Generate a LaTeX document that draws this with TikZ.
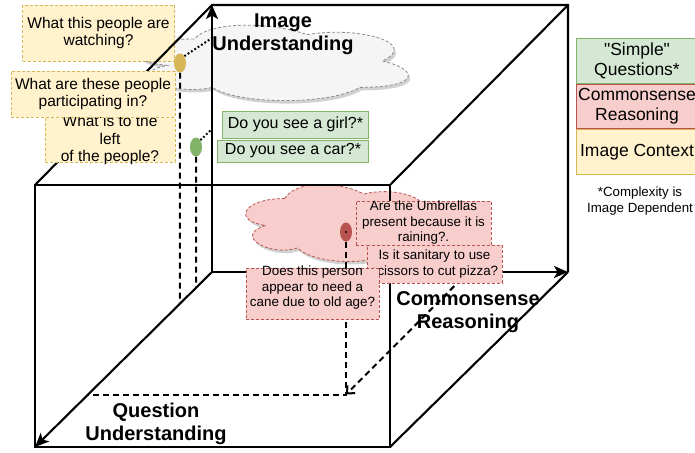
\documentclass[tikz,border=0pt]{standalone}
\usepackage{fontspec}
\setmainfont{Liberation Sans}
\newfontfamily\legendfont{Liberation Sans}
\usetikzlibrary{positioning,arrows.meta,calc,shapes.geometric}
\definecolor{ctxfill}{HTML}{FFF2CC}
\definecolor{ctxline}{HTML}{D6B656}
\definecolor{simfill}{HTML}{D5E8D4}
\definecolor{simline}{HTML}{82B366}
\definecolor{csfill}{HTML}{F8CECC}
\definecolor{csline}{HTML}{B85450}
\definecolor{cloudfill}{HTML}{F5F5F5}
\definecolor{cloudline}{HTML}{8C8C8C}
\tikzset{
    qbox/.style={align=center,inner sep=0pt,line width=0.8pt},
    ctxq/.style={qbox,draw=ctxline,fill=ctxfill,dash pattern=on 3pt off 2pt,font=\fontsize{15.5}{17.5}\selectfont},
    simq/.style={qbox,draw=simline,fill=simfill,font=\fontsize{16}{18}\selectfont},
    csq/.style={qbox,draw=csline,fill=csfill,dash pattern=on 3pt off 2pt,font=\fontsize{13.4}{15.5}\selectfont},
    legend/.style={qbox,minimum width=122pt,line width=1pt,font=\legendfont\fontsize{17.5}{20}\selectfont},
    axislabel/.style={align=center,font=\bfseries\fontsize{20}{23}\selectfont},
    edge/.style={line width=2.1pt},
    axis/.style={edge,-{Stealth[length=14pt,width=12pt,inset=3.5pt]}},
    proj/.style={line width=2pt,dash pattern=on 6pt off 4pt},
    hint/.style={line width=2pt,dash pattern=on 1.8pt off 2.2pt},
    blob/.style={ellipse,minimum width=12pt,minimum height=19pt,inner sep=0pt},
    pics/puff/.style={code={
        \path[pic actions] (0.25,0.25) .. controls (0.05,0.25) and (0,0.5) .. (0.16,0.55)
            .. controls (0,0.66) and (0.18,0.9) .. (0.31,0.8)
            .. controls (0.4,1) and (0.7,1) .. (0.8,0.8)
            .. controls (1,0.8) and (1,0.6) .. (0.875,0.5)
            .. controls (1,0.3) and (0.8,0.1) .. (0.625,0.2)
            .. controls (0.5,0.05) and (0.3,0.05) .. (0.25,0.25) -- cycle;
    }},
}

\begin{document}
\begin{tikzpicture}[x=1pt,y=-1pt]
    \useasboundingbox (0,0) rectangle (695,452);
    \fill[white] (0,0) rectangle (695,452);

    % clouds with a soft shadow
    \pic[fill=black,opacity=0.18,xscale=301,yscale=88] at (121,20) {puff};
    \pic[fill=cloudfill,draw=cloudline,line width=0.8pt,dash pattern=on 3pt off 2pt,xscale=301,yscale=88] at (119,17) {puff};
    \pic[fill=black,opacity=0.18,xscale=211,yscale=90] at (234,179) {puff};
    \pic[fill=csfill,draw=csline,line width=0.8pt,dash pattern=on 3pt off 2pt,xscale=211,yscale=90] at (232,176) {puff};

    \node[ctxq,minimum width=152pt,minimum height=56pt] (watch) at (98.5,33) {What this people are\\watching?};

    % cube corners
    \coordinate (o) at (212,272);
    \coordinate (iu) at (212,5);
    \coordinate (cr) at (568,272);
    \coordinate (qu) at (35,447);
    \coordinate (bk) at (568,5);
    \coordinate (ftl) at (35,185);
    \coordinate (ftr) at (390,185);
    \coordinate (fbr) at (390,447);

    \draw[edge] (qu) -- (ftl) -- (ftr) -- (fbr) -- cycle;
    \draw[edge] (ftl) -- (iu) -- (bk) -- (cr);
    \draw[edge] (ftr) -- (bk);
    \draw[edge] (fbr) -- (cr);
    \draw[axis] (o) -- (iu);
    \draw[axis] (o) -- (cr);
    \draw[axis] (o) -- (qu);

    % projections of the sample questions
    \node[blob] (ydot) at (180,63) {};
    \node[blob] (gdot) at (196,147) {};
    \node[blob] (rdot) at (346,232) {};
    \coordinate (yi) at (212,38);
    \coordinate (gi) at (212,129);
    \coordinate (yq) at ($(o)!0.181!(qu)$);
    \coordinate (gq) at ($(o)!0.09!(qu)$);
    \coordinate (rq) at ($(o)!0.7!(qu)$);
    \coordinate (rc) at ($(o)!0.72!(cr)$);

    \draw[hint] (ydot.north east) -- (yi);
    \draw[hint] (gdot.north east) -- (gi);
    \draw[proj] (ydot.south) -- (yq);
    \draw[proj] (gdot.south) -- (gq);
    \draw[proj] (rdot.south) -- (rdot |- rq) -- (rq);
    \draw[proj,-{Straight Barb[length=6pt,width=11pt]}] (rc) -- (rdot |- rq);

    \node[blob,fill=ctxline] at (ydot) {};
    \node[blob,fill=simline] at (gdot) {};
    \node[blob,fill=csline] at (rdot) {};
    \fill (rdot.center) circle (1.2pt);

    \node[ctxq,minimum width=130pt,inner ysep=-2.5pt] (left) at (110,140) {What is to the\\left\\of the people?};
    \node[ctxq,minimum width=164pt,minimum height=46pt] (part) at (93,94) {What are these people\\participating in?};

    \node[simq,minimum width=146pt,minimum height=27pt] (girl) at (295.5,124.5) {Do you see a girl?*};
    \node[simq,minimum width=151pt,minimum height=22pt] (car) at (293,151) {Do you see a car?*};

    \node[csq,minimum width=135pt,minimum height=44pt] (umbr) at (423.5,223) {Are the Umbrellas\\present because it is\\raining?.};
    \node[csq,minimum width=135pt,minimum height=38pt] (pizza) at (434.5,264) {Is it sanitary to use\\scissors to cut pizza?};
    \node[csq,minimum width=133pt,inner ysep=-2.25pt] (cane) at (312.5,294) {Does this person\\appear to need a\\cane due to old age?\\~};

    \node[axislabel] (iulbl) at (283,34) {Image\\Understanding};
    \node[axislabel] (crlbl) at (468,312) {Commonsense\\Reasoning};
    \node[axislabel] (qulbl) at (156,424) {Question\\Understanding};

    % legend
    \node[legend,draw=simline,fill=simfill,minimum height=45pt] (lsim) at (637,61) {"Simple"\\Questions*};
    \node[legend,draw=csline,fill=csfill,minimum height=44pt,below=0pt of lsim] (lcs) {Commonsense\\Reasoning};
    \node[legend,draw=ctxline,fill=ctxfill,minimum height=45pt,below=0pt of lcs] (lctx) {Image Context};
    \node[align=center,inner sep=0pt,font=\fontsize{13.3}{16}\selectfont] (cnote) at (640,201) {*Complexity is\\Image Dependent};
\end{tikzpicture}
\end{document}
